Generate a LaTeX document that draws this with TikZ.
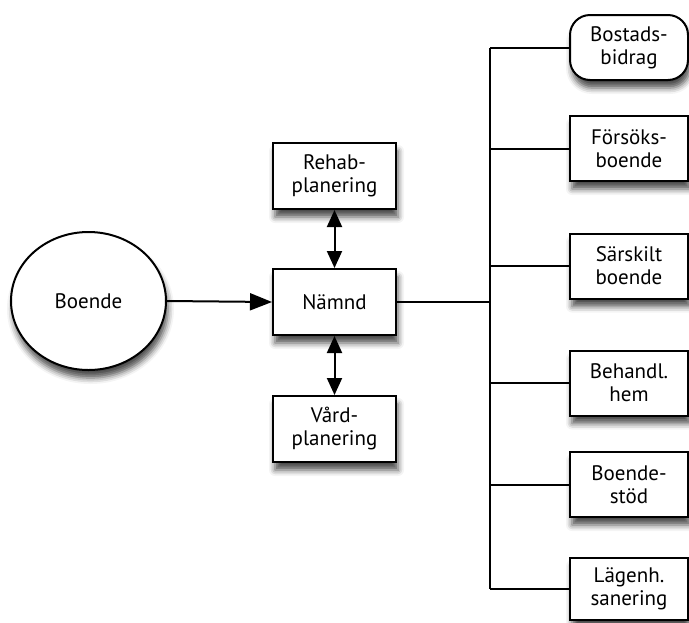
\documentclass[tikz,border=0pt]{standalone}
\usepackage{fontspec}
\setmainfont{PT Sans}
\usetikzlibrary{shapes.geometric,arrows.meta,shadows.blur}

\tikzset{
  softshadow/.style={blur shadow={shadow xshift=2pt, shadow yshift=-8pt,
      shadow blur radius=6pt, shadow opacity=70}},
  box/.style={draw=black, line width=2pt, fill=white, rectangle,
      minimum width=123pt, minimum height=66pt, align=center, softshadow,
      font=\fontsize{21}{23}\selectfont},
  sidebox/.style={box, minimum width=118pt, minimum height=65pt},
  oval/.style={draw=black, line width=2pt, fill=white, ellipse,
      minimum width=155pt, minimum height=138pt, softshadow,
      font=\fontsize{21}{23}\selectfont},
  link/.style={line width=2pt},
  bigarrow/.style={link, -{Triangle[length=22pt,width=17pt]}},
  twoway/.style={link, {Triangle[length=17pt,width=15pt]}-{Triangle[length=17pt,width=15pt]}},
}

\begin{document}
\begin{tikzpicture}[x=1pt, y=-1pt]
  \useasboundingbox (0,0) rectangle (689,622);

  % input and decision chain
  \node[oval] (boende) at (88.5,301) {Boende};
  \node[box] (namnd) at (334.5,302) {Nämnd};
  \node[box] (rehab) at (334.5,176) {Rehab-\\planering};
  \node[box] (vard) at (334.5,429) {Vård-\\planering};

  % housing alternatives
  \node[sidebox, rounded corners=20pt] (bostads) at (629,47.5) {Bostads-\\bidrag};
  \node[sidebox] (forsok) at (629,148.5) {Försöks-\\boende};
  \node[sidebox] (sarskilt) at (629,266) {Särskilt\\boende};
  \node[sidebox] (behandl) at (629,383) {Behandl.\\hem};
  \node[sidebox] (stod) at (629,484.5) {Boende-\\stöd};
  \node[sidebox, minimum height=62pt] (lagenh) at (629,589) {Lägenh.\\sanering};

  \coordinate (trunk) at (490,302);

  % connectors
  \draw[bigarrow] (boende.east) -- (namnd.west);
  \draw[twoway] (rehab.south) -- (namnd.north);
  \draw[twoway] (namnd.south) -- (vard.north);

  \draw[link] (namnd.east) -- (trunk);
  \draw[link] (bostads.west -| trunk) -- (lagenh.west -| trunk);
  \foreach \n in {bostads,forsok,sarskilt,behandl,stod,lagenh}
    \draw[link] (\n.west -| trunk) -- (\n.west);
\end{tikzpicture}
\end{document}
